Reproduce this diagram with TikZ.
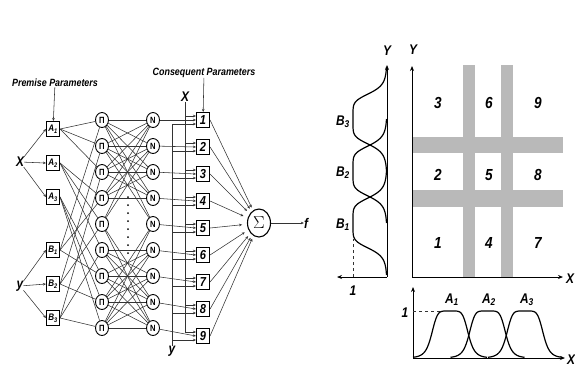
\documentclass[tikz,border=0pt]{standalone}
\usepackage{fontspec}
\setmainfont{Liberation Sans}
\newfontfamily\labfont[FakeStretch=0.85]{Liberation Sans}
\usetikzlibrary{shapes.geometric, positioning, arrows.meta, calc}

\begin{document}
\begin{tikzpicture}[x=1pt, y=-1pt,
  lab/.style={font=\labfont\bfseries\itshape\fontsize{10.5}{10.5}\selectfont, inner sep=0pt},
  biglab/.style={font=\labfont\bfseries\itshape\fontsize{14}{14}\selectfont, inner sep=0pt},
  numlab/.style={font=\labfont\bfseries\itshape\fontsize{16}{16}\selectfont, inner sep=0pt},
  prembox/.style={rectangle, draw, line width=1.1pt, minimum width=13pt,
    minimum height=15pt, inner sep=0.5pt, font=\labfont\bfseries\itshape\fontsize{9.5}{9.5}\selectfont},
  conbox/.style={prembox, minimum width=13pt, minimum height=15pt,
    font=\labfont\bfseries\itshape\fontsize{13}{13}\selectfont},
  rulenode/.style={ellipse, draw, line width=0.9pt, minimum width=13pt,
    minimum height=15pt, inner sep=0pt, font=\labfont\bfseries\fontsize{9}{9}\selectfont},
  wire/.style={line width=0.55pt, black!80},
  arr/.style={wire, -{Stealth[length=3pt, width=2.6pt]}},
  axis/.style={line width=1pt, -{Stealth[length=5pt, width=4pt]}},
  mf/.style={line width=1.2pt},
  band/.style={fill=gray!55, draw=none}
]
  \useasboundingbox (0,0) rectangle (575,389);

  % network
  \node[lab] (prem) at (55,83) {Premise Parameters};
  \node[biglab] (inx) at (20,162) {X};
  \node[biglab] (iny) at (20,286) {y};
  \foreach \i/\yy in {1/129,2/163,3/197}
    \node[prembox] (a\i) at (53,\yy) {A\textsubscript{\i}};
  \foreach \i/\yy in {1/250,2/284,3/318}
    \node[prembox] (b\i) at (53,\yy) {B\textsubscript{\i}};
  \foreach \i in {1,...,9} {
    \node[rulenode] (p\i) at (102,{120+26*(\i-1)}) {Π};
    \node[rulenode] (n\i) at (153,{120+26*(\i-1)}) {N};
    \node[conbox] (c\i) at (203,{120+27*(\i-1)}) {\i};
  }
  \foreach \yy in {197,205,...,253}
    \fill (128,\yy) circle (1pt);
  \node[lab] (cons) at (204,73) {Consequent Parameters};
  \node[biglab] (xlab) at (185,97) {X};
  \node[biglab] (ylab) at (172,351) {y};
  \node[ellipse, draw, line width=1.1pt, minimum width=23pt, minimum height=28pt,
    inner sep=0pt, font=\fontsize{19}{19}\selectfont] (sum) at (259,223) {$\Sigma$};
  \node[biglab] (fout) at (306,223) {f};

  \draw[arr] (prem) -- (a1);
  \draw[arr] (cons) -- (c1);
  \foreach \k in {1,2,3} {
    \draw[arr] (inx) -- (a\k.west);
    \draw[arr] (iny) -- (b\k.west);
  }
  \foreach \i in {1,2,3} \foreach \j in {1,2,3} {
    \pgfmathtruncatemacro\k{3*(\i-1)+\j}
    \pgfmathtruncatemacro\m{3*(\j-1)+\i}
    \draw[wire] (a\i.east) -- (p\k);
    \draw[wire] (b\i.east) -- (p\m);
  }
  \foreach \i in {1,...,4} \foreach \j in {1,...,4}
    \draw[wire] (p\i) -- (n\j);
  \foreach \i in {6,...,9} \foreach \j in {6,...,9}
    \draw[wire] (p\i) -- (n\j);
  \foreach \j in {1,2,8,9} {
    \draw[wire] (p5) -- (n\j);
    \draw[wire] (p\j) -- (n5);
  }
  \coordinate (xbot) at ([yshift=4pt]c9.west -| xlab);
  \coordinate (ytop) at ([yshift=-4pt]c1.west -| ylab);
  \draw[wire] (xlab) -- (xbot);
  \draw[wire] (ytop) -- (ylab);
  \foreach \i in {1,...,9} {
    \draw[arr] (n\i) -- (c\i.west);
    \draw[arr] ([yshift=4pt]c\i.west -| xbot) -- ([yshift=4pt]c\i.west);
    \draw[arr] ([yshift=-4pt]c\i.west -| ytop) -- ([yshift=-4pt]c\i.west);
    \draw[arr] (c\i.east) -- ($(sum.center)!17pt!(c\i.east)$);
  }
  \draw[arr] (sum) -- (fout);

  % membership functions on Y
  \coordinate (bo) at (387,277);
  \draw[axis] (bo) -- (387,65);
  \draw[axis] (bo) -- (337,277);
  \node[biglab] (ymf) at (387,51) {Y};
  \node[biglab] (oneb) at (353,291) {1};
  \draw[wire, dashed] (353,277) -- (353,239);
  \foreach \c in {119,171,223}
    \draw[mf] plot[domain=\c-52:\c+52, samples=90, smooth]
      ({387-34/(1+pow(((\x-\c)/26)*((\x-\c)/26),3))}, \x);
  \node[biglab] (lb3) at (343,122) {B\textsubscript{3}};
  \node[biglab] (lb2) at (343,173) {B\textsubscript{2}};
  \node[biglab] (lb1) at (343,225) {B\textsubscript{1}};

  % fuzzy partition
  \fill[band] (463,65) rectangle (475,277);
  \fill[band] (501,65) rectangle (513,277);
  \fill[band] (412,137) rectangle (563,153);
  \fill[band] (412,190) rectangle (563,207);
  \coordinate (go) at (412,277);
  \draw[axis] (go) -- (412,66);
  \draw[axis] (go) -- (563,277);
  \node[biglab] (gy) at (413,50) {Y};
  \node[biglab, anchor=west] (gx) at (566,279) {X};
  \foreach \n/\xx/\yy in {3/438/103, 6/489/103, 9/538/103,
                          2/438/175, 5/489/175, 8/538/175,
                          1/438/243, 4/489/243, 7/538/243}
    \node[numlab] (r\n) at (\xx,\yy) {\n};

  % membership functions on X
  \coordinate (ao) at (413,358);
  \draw[axis] (ao) -- (413,287);
  \draw[axis] (ao) -- (565,358);
  \node[biglab, anchor=west] (ax) at (567,360) {X};
  \node[biglab] (onea) at (405,313) {1};
  \draw[wire, dashed] (413,311) -- (440,311);
  \foreach \c in {450,487.5,525}
    \draw[mf] plot[domain=\c-37:\c+37, samples=90, smooth]
      (\x, {358-47/(1+pow(((\x-\c)/18.5)*((\x-\c)/18.5),3))});
  \node[biglab] (la1) at (452,300) {A\textsubscript{1}};
  \node[biglab] (la2) at (489,300) {A\textsubscript{2}};
  \node[biglab] (la3) at (527,300) {A\textsubscript{3}};
\end{tikzpicture}
\end{document}
